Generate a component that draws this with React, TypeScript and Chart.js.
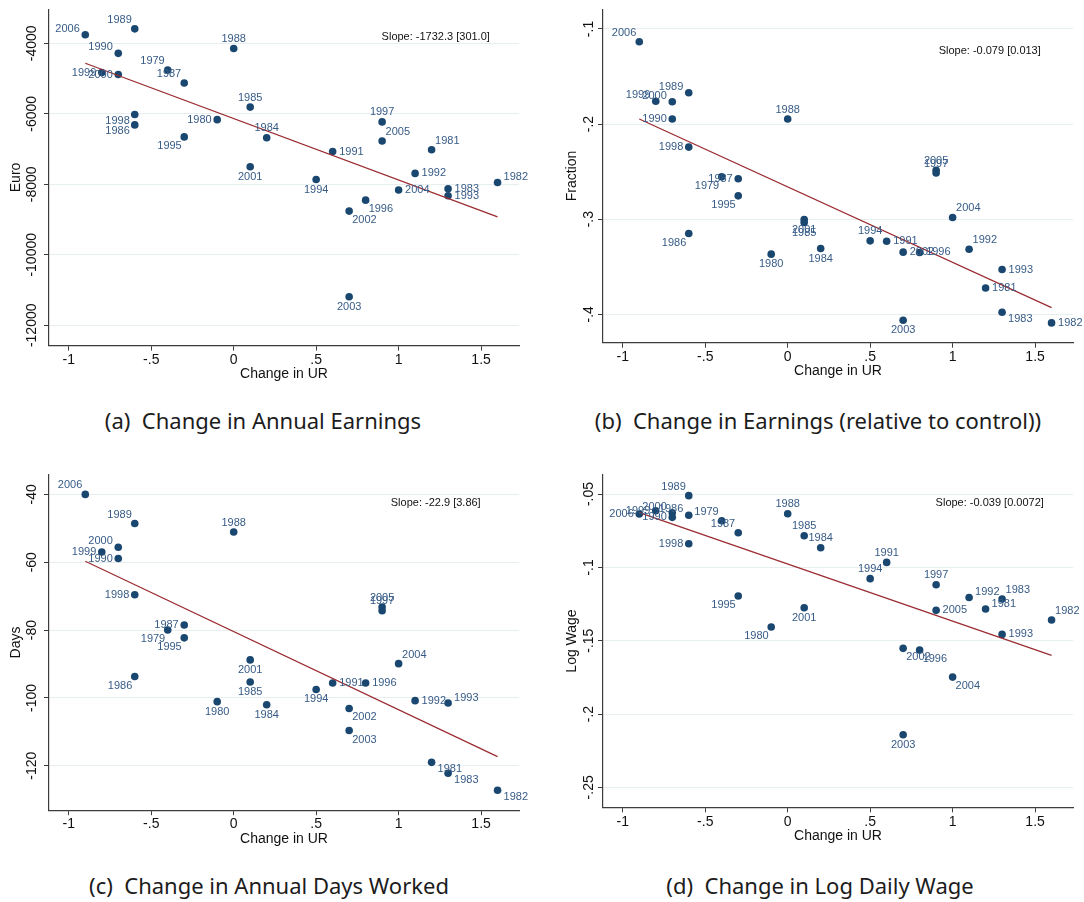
import React, { useEffect, useRef } from "react";
import { Chart, registerables } from "chart.js";

Chart.register(...registerables);

// ---------------- data ----------------
const years = [1979, 1980, 1981, 1982, 1983, 1984, 1985, 1986, 1987, 1988, 1989, 1990, 1991, 1992, 1993, 1994, 1995, 1996, 1997, 1998, 1999, 2000, 2001, 2002, 2003, 2004, 2005, 2006];
const urChange = [-0.4, -0.1, 1.2, 1.6, 1.3, 0.2, 0.1, -0.6, -0.3, 0.0, -0.6, -0.7, 0.6, 1.1, 1.3, 0.5, -0.3, 0.8, 0.9, -0.6, -0.8, -0.7, 0.1, 0.7, 0.7, 1.0, 0.9, -0.9];

const earningsEuro = [-4760, -6165, -7020, -7950, -8125, -6680, -5810, -6315, -5125, -4145, -3590, -4285, -7070, -7690, -8325, -7865, -6655, -8450, -6230, -6020, -4830, -4885, -7500, -8760, -11190, -8160, -6770, -3755];
const earningsFraction = [-0.2555, -0.3368, -0.3723, -0.4091, -0.3979, -0.3309, -0.3035, -0.315, -0.2575, -0.1947, -0.167, -0.1947, -0.3232, -0.3316, -0.353, -0.3228, -0.2755, -0.335, -0.2515, -0.2242, -0.176, -0.1765, -0.3004, -0.3347, -0.4063, -0.2982, -0.2485, -0.1134];
const daysWorked = [-80.0, -101.1, -119.0, -127.2, -122.2, -102.0, -95.3, -93.7, -78.5, -51.1, -48.6, -58.9, -95.6, -100.8, -101.5, -97.5, -82.3, -95.6, -74.3, -69.6, -57.0, -55.6, -88.8, -103.1, -109.6, -89.9, -73.2, -40.0];
const logWage = [-0.0682, -0.1407, -0.1284, -0.1359, -0.1216, -0.0866, -0.0784, -0.0645, -0.0764, -0.0634, -0.0511, -0.0659, -0.0966, -0.1205, -0.1457, -0.1077, -0.1195, -0.1564, -0.1118, -0.0839, -0.0614, -0.0627, -0.1275, -0.1552, -0.2141, -0.1748, -0.1293, -0.0636];

// fitted lines (endpoints at min / max change in UR)
const fitUR = [-0.9, 1.6];
const fitEarningsEuro = [-4565, -8925];
const fitEarningsFraction = [-0.1947, -0.393];
const fitDaysWorked = [-59.7, -117.3];
const fitLogWage = [-0.0627, -0.16];

// ticks
const xTicks = [-1, -0.5, 0, 0.5, 1, 1.5];
const xTickLabels = ["-1", "-.5", "0", ".5", "1", "1.5"];
const yTicksEuro = [-4000, -6000, -8000, -10000, -12000];
const yTickLabelsEuro = ["-4000", "-6000", "-8000", "-10000", "-12000"];
const yTicksFraction = [-0.1, -0.2, -0.3, -0.4];
const yTickLabelsFraction = ["-.1", "-.2", "-.3", "-.4"];
const yTicksDays = [-40, -60, -80, -100, -120];
const yTickLabelsDays = ["-40", "-60", "-80", "-100", "-120"];
const yTicksWage = [-0.05, -0.1, -0.15, -0.2, -0.25];
const yTickLabelsWage = ["-.05", "-.1", "-.15", "-.2", "-.25"];

// slope annotations
const slopeTexts = ["Slope: -1732.3 [301.0]", "Slope: -0.079 [0.013]", "Slope: -22.9 [3.86]", "Slope: -0.039 [0.0072]"];

// label clock positions (Stata style), year order
const labelPosA = [11, 9, 1, 2, 3, 12, 12, 8, 11, 12, 11, 10, 3, 3, 3, 6, 7, 5, 12, 8, 9, 9, 6, 5, 6, 3, 1, 10];
const labelPosB = [7, 6, 3, 3, 4, 6, 6, 7, 9, 12, 10, 9, 3, 1, 3, 12, 7, 3, 12, 9, 10, 10, 6, 3, 6, 1, 12, 11];
const labelPosC = [7, 6, 4, 4, 4, 6, 6, 7, 9, 12, 11, 9, 3, 3, 2, 6, 7, 3, 12, 9, 9, 10, 6, 5, 5, 1, 12, 11];
const labelPosD = [11, 7, 2, 1, 1, 12, 12, 10, 11, 12, 11, 9, 12, 2, 3, 12, 7, 5, 12, 9, 9, 10, 6, 5, 6, 5, 3, 9];

// ---------------- style ----------------
const FONT = '"Liberation Sans", Arial, Helvetica, sans-serif';
const DOT = "#1a476f";
const LABEL = "#375b86";
const FIT = "#9a2b31";
const AXIS = "#3c3c3c";
const GRID = "#e6eef0";
const SLOPE_X = 1.225;

const CLOCK: Record<number, [CanvasTextAlign, number, number]> = {
  12: ["center", 0, -9.5],
  1: ["left", 3.5, -9],
  2: ["left", 6, -5.5],
  3: ["left", 6.5, 0],
  4: ["left", 6, 6.5],
  5: ["left", 3, 9],
  6: ["center", 0, 10],
  7: ["right", -2.5, 9.3],
  8: ["right", -5, 6.5],
  9: ["right", -5.5, 0],
  10: ["right", -5.5, -6],
  11: ["right", -3, -9],
};

interface PanelCfg {
  left: number;
  top: number;
  chartTop: number;
  chartBottom: number;
  yMin: number;
  yMax: number;
  yTicks: number[];
  yTickLabels: string[];
  yTitle: string;
  values: number[];
  fit: number[];
  labelPos: number[];
  slope: string;
  slopeY: number;
  yLabelGap: number;
  yTitleGap: number;
  caption: string;
  captionCenterX: number;
  captionY: number;
}

const CW = 530;
const CH = 395;

const panels: PanelCfg[] = [
  {
    left: 0, top: 0, chartTop: 9.3, chartBottom: 345.6, yMin: -12576, yMax: -3035,
    yTicks: yTicksEuro, yTickLabels: yTickLabelsEuro, yTitle: "Euro",
    values: earningsEuro, fit: fitEarningsEuro, labelPos: labelPosA,
    slope: slopeTexts[0], slopeY: -3821, yLabelGap: 16.5, yTitleGap: 32.5,
    caption: "(a)  Change in Annual Earnings", captionCenterX: 263, captionY: 420,
  },
  {
    left: 554, top: 0, chartTop: 9.3, chartBottom: 342.7, yMin: -0.4299, yMax: -0.0793,
    yTicks: yTicksFraction, yTickLabels: yTickLabelsFraction, yTitle: "Fraction",
    values: earningsFraction, fit: fitEarningsFraction, labelPos: labelPosB,
    slope: slopeTexts[1], slopeY: -0.1228, yLabelGap: 14, yTitleGap: 31.3,
    caption: "(b)  Change in Earnings (relative to control))", captionCenterX: 818, captionY: 420,
  },
  {
    left: 0, top: 465, chartTop: 9.7, chartBottom: 345.2, yMin: -133.1, yMax: -34.2,
    yTicks: yTicksDays, yTickLabels: yTickLabelsDays, yTitle: "Days",
    values: daysWorked, fit: fitDaysWorked, labelPos: labelPosC,
    slope: slopeTexts[2], slopeY: -42.6, yLabelGap: 16.5, yTitleGap: 32.6,
    caption: "(c)  Change in Annual Days Worked", captionCenterX: 269, captionY: 885,
  },
  {
    left: 554, top: 465, chartTop: 9.7, chartBottom: 342.3, yMin: -0.2636, yMax: -0.0368,
    yTicks: yTicksWage, yTickLabels: yTickLabelsWage, yTitle: "Log Wage",
    values: logWage, fit: fitLogWage, labelPos: labelPosD,
    slope: slopeTexts[3], slopeY: -0.0561, yLabelGap: 14.3, yTitleGap: 31.3,
    caption: "(d)  Change in Log Daily Wage", captionCenterX: 820, captionY: 885,
  },
];

function makeTextPlugin(cfg: PanelCfg) {
  return {
    id: "panelText",
    afterDatasetsDraw(chart: any) {
      const ctx: CanvasRenderingContext2D = chart.ctx;
      const xs = chart.scales.x;
      const ys = chart.scales.y;
      const area = chart.chartArea;
      ctx.save();
      // point labels
      ctx.font = `11px ${FONT}`;
      ctx.fillStyle = LABEL;
      ctx.textBaseline = "middle";
      years.forEach((yr, i) => {
        const px = xs.getPixelForValue(urChange[i]);
        const py = ys.getPixelForValue(cfg.values[i]);
        const [align, dx, dy] = CLOCK[cfg.labelPos[i]];
        ctx.textAlign = align;
        ctx.fillText(String(yr), px + dx, py + dy);
      });
      // slope text
      ctx.fillStyle = "#111";
      ctx.textAlign = "center";
      ctx.fillText(cfg.slope, xs.getPixelForValue(SLOPE_X), ys.getPixelForValue(cfg.slopeY));
      // y tick labels (rotated)
      ctx.font = `14px ${FONT}`;
      cfg.yTicks.forEach((v, i) => {
        const py = ys.getPixelForValue(v);
        ctx.save();
        ctx.translate(area.left - cfg.yLabelGap, py);
        ctx.rotate(-Math.PI / 2);
        ctx.textAlign = "center";
        ctx.fillText(cfg.yTickLabels[i], 0, 0);
        ctx.restore();
      });
      // y title
      ctx.save();
      ctx.translate(area.left - cfg.yTitleGap, (area.top + area.bottom) / 2);
      ctx.rotate(-Math.PI / 2);
      ctx.textAlign = "center";
      ctx.fillText(cfg.yTitle, 0, 0);
      ctx.restore();
      // x title
      ctx.textAlign = "center";
      ctx.fillText("Change in UR", (area.left + area.right) / 2, area.bottom + 28.5);
      ctx.restore();
    },
  };
}

function Panel({ cfg }: { cfg: PanelCfg }) {
  const ref = useRef<HTMLCanvasElement>(null);
  useEffect(() => {
    const canvas = ref.current;
    if (!canvas) return;
    const points = urChange.map((x, i) => ({ x, y: cfg.values[i] }));
    const fitPts = fitUR.map((x, i) => ({ x, y: cfg.fit[i] }));
    const chart = new Chart(canvas, {
      type: "scatter",
      data: {
        datasets: [
          {
            type: "line",
            data: fitPts,
            borderColor: FIT,
            borderWidth: 1.2,
            pointRadius: 0,
            fill: false,
            order: 0,
          } as any,
          {
            type: "scatter",
            data: points,
            backgroundColor: DOT,
            borderColor: DOT,
            borderWidth: 0,
            pointRadius: 3.8,
            order: 1,
          } as any,
        ],
      },
      options: {
        responsive: false,
        animation: false,
        devicePixelRatio: 1,
        layout: { padding: { left: 0, top: cfg.chartTop, right: CW - 519, bottom: 0 } },
        plugins: { legend: { display: false }, tooltip: { enabled: false } },
        scales: {
          x: {
            type: "linear",
            min: -1.12,
            max: 1.73,
            afterBuildTicks: (s: any) => {
              s.ticks = xTicks.map((v) => ({ value: v }));
            },
            afterFit: (s: any) => {
              s.height = CH - cfg.chartBottom;
            },
            ticks: {
              autoSkip: false,
              maxRotation: 0,
              minRotation: 0,
              padding: 1,
              color: "#111",
              font: { family: FONT, size: 14 },
              callback: (_v: any, i: number) => xTickLabels[i],
            },
            grid: {
              drawOnChartArea: false,
              drawTicks: true,
              tickLength: 5,
              color: AXIS,
              tickColor: AXIS,
              tickWidth: 1,
            },
            border: { display: true, color: AXIS, width: 1.2 },
          },
          y: {
            type: "linear",
            min: cfg.yMin,
            max: cfg.yMax,
            afterBuildTicks: (s: any) => {
              s.ticks = cfg.yTicks.map((v) => ({ value: v }));
            },
            afterFit: (s: any) => {
              s.width = 49;
            },
            ticks: { display: false },
            grid: {
              color: GRID,
              lineWidth: 1,
              drawTicks: true,
              tickLength: 5,
              tickColor: AXIS,
              tickWidth: 1,
            },
            border: { display: true, color: AXIS, width: 1.2 },
          },
        },
      } as any,
      plugins: [makeTextPlugin(cfg)],
    });
    return () => chart.destroy();
  }, [cfg]);

  return (
    <>
      <canvas
        ref={ref}
        width={CW}
        height={CH}
        style={{ position: "absolute", left: cfg.left, top: cfg.top, width: CW, height: CH }}
      />
      <div
        style={{
          position: "absolute",
          left: cfg.captionCenterX - 270,
          width: 540,
          top: cfg.captionY - 15,
          height: 30,
          lineHeight: "30px",
          textAlign: "center",
          whiteSpace: "pre",
          fontFamily: '"Noto Sans", "Open Sans", sans-serif',
          fontSize: 22,
          color: "#1c1c1c",
        }}
      >
        {cfg.caption}
      </div>
    </>
  );
}

export default function App() {
  return (
    <div
      style={{
        position: "absolute",
        left: 0,
        top: 0,
        width: 1084,
        height: 902,
        overflow: "hidden",
        background: "#ffffff",
      }}
    >
      {panels.map((p, i) => (
        <Panel key={i} cfg={p} />
      ))}
    </div>
  );
}
